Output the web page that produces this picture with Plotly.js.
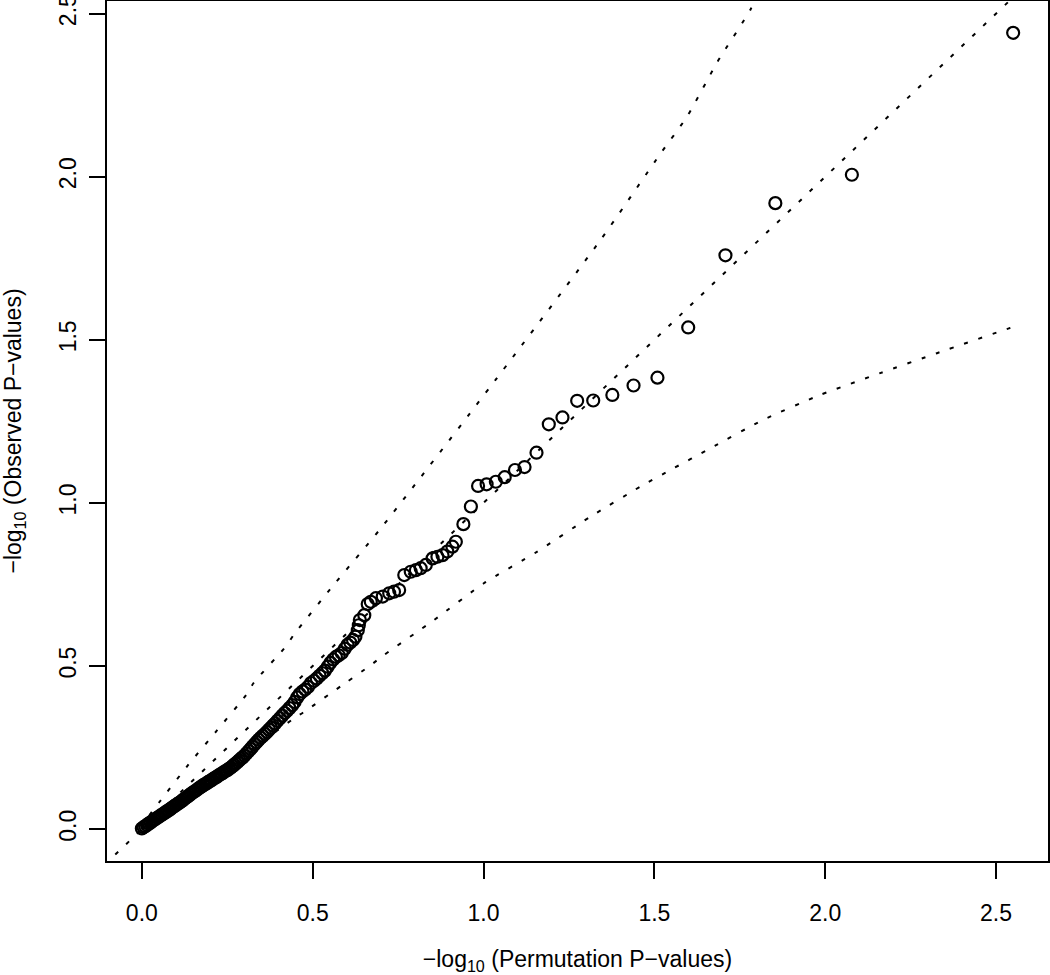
<!DOCTYPE html>
<html>
<head>
<meta charset="utf-8">
<script src="https://cdn.plot.ly/plotly-3.0.1.min.js"></script>
<style>html,body{margin:0;padding:0;background:#fff;}#chart{width:1050px;height:975px;}</style>
</head>
<body>
<div id="chart"></div>
<script>
// Observed points: x = -log10(permutation p), y = -log10(observed p)
const permX = [
0.000,0.005,0.010,0.015,0.020,0.025,0.030,0.035,0.040,0.045,0.050,0.055,0.060,0.065,0.070,0.075,0.080,0.085,0.090,0.095,
0.100,0.105,0.110,0.115,0.120,0.125,0.130,0.135,0.140,0.145,0.150,0.155,0.160,0.165,0.170,0.175,0.180,0.185,0.190,0.195,
0.200,0.205,0.210,0.215,0.220,0.225,0.230,0.235,0.240,0.245,0.250,0.255,0.260,0.265,0.270,0.275,0.280,0.285,0.290,0.295,
0.300,0.306,0.312,0.318,0.324,0.330,0.336,0.342,0.348,0.354,0.360,0.366,0.372,0.378,0.384,0.390,0.397,0.404,0.411,0.418,
0.425,0.432,0.440,0.447,0.455,0.462,0.470,0.478,0.486,0.495,0.504,0.512,0.520,0.528,0.536,0.544,0.552,0.560,0.568,0.576,
0.585,0.594,0.602,0.610,0.618,0.625,0.632,0.635,0.638,0.651,0.661,0.670,0.685,0.705,0.724,0.738,0.753,0.768,0.787,0.802,
0.816,0.831,0.851,0.865,0.880,0.894,0.909,0.919,0.941,0.963,0.984,1.009,1.036,1.062,1.092,1.120,1.155,1.191,1.231,1.274,
1.321,1.377,1.439,1.509,1.599,1.708,1.854,2.078,2.550];
const obsY = [
0.002,0.006,0.009,0.013,0.017,0.020,0.024,0.028,0.031,0.035,0.038,0.042,0.045,0.049,0.052,0.056,0.059,0.063,0.067,0.070,
0.074,0.078,0.081,0.085,0.089,0.093,0.097,0.101,0.105,0.109,0.113,0.116,0.120,0.124,0.128,0.131,0.135,0.138,0.141,0.145,
0.148,0.151,0.155,0.158,0.161,0.165,0.168,0.171,0.175,0.178,0.181,0.185,0.188,0.193,0.197,0.202,0.206,0.211,0.216,0.220,
0.225,0.232,0.239,0.246,0.253,0.260,0.267,0.274,0.280,0.286,0.292,0.298,0.305,0.311,0.318,0.324,0.332,0.340,0.348,0.356,
0.363,0.371,0.380,0.390,0.404,0.414,0.422,0.428,0.436,0.448,0.455,0.462,0.470,0.478,0.486,0.498,0.510,0.520,0.528,0.533,
0.540,0.553,0.565,0.572,0.580,0.590,0.610,0.625,0.641,0.656,0.690,0.697,0.708,0.713,0.723,0.728,0.733,0.779,0.789,0.794,
0.800,0.810,0.830,0.835,0.840,0.851,0.866,0.881,0.935,0.989,1.052,1.057,1.065,1.079,1.101,1.110,1.154,1.241,1.262,1.313,
1.314,1.331,1.360,1.384,1.538,1.759,1.919,2.006,2.441];

// Upper confidence envelope
const upperX = [0.000,0.020,0.052,0.135,0.217,0.305,0.327,0.422,0.444,0.561,0.703,1.035,1.343,1.518,1.596,1.684,1.781,1.800];
const upperY = [0.004,0.040,0.084,0.196,0.299,0.411,0.448,0.561,0.595,0.748,0.927,1.377,1.807,2.071,2.185,2.351,2.512,2.560];

// Lower confidence envelope
const lowerX = [0.000,0.446,0.474,0.597,0.670,0.709,0.855,1.000,1.156,1.313,1.459,1.547,1.663,1.819,1.985,2.161,2.327,2.541,2.550];
const lowerY = [0.000,0.340,0.359,0.449,0.503,0.534,0.641,0.753,0.850,0.958,1.050,1.101,1.167,1.255,1.331,1.398,1.459,1.536,1.538];

// Reference line y = x
const refX = [-0.3, 3.0];
const refY = [-0.3, 3.0];

const font = {family: 'Liberation Sans, Arial, Helvetica, sans-serif', size: 23, color: '#000'};
const dash = '4px,11px';

const traces = [
  {x: refX, y: refY, mode: 'lines', line: {color: '#000', width: 2, dash: dash}, hoverinfo: 'skip'},
  {x: upperX, y: upperY, mode: 'lines', line: {color: '#000', width: 2, dash: dash, shape: 'spline', smoothing: 0.6}, hoverinfo: 'skip'},
  {x: lowerX, y: lowerY, mode: 'lines', line: {color: '#000', width: 2, dash: dash, shape: 'spline', smoothing: 0.6}, hoverinfo: 'skip'},
  {x: permX, y: obsY, mode: 'markers', marker: {symbol: 'circle-open', size: 12, color: '#000', line: {width: 2.2}}, cliponaxis: false}
];

const layout = {
  width: 1050, height: 975,
  margin: {l: 107, r: 2, t: 1, b: 114, pad: 0},
  paper_bgcolor: '#fff', plot_bgcolor: '#fff',
  showlegend: false,
  font: font,
  xaxis: {
    range: [-0.102, 2.652], autorange: false,
    tickvals: [0, 0.5, 1.0, 1.5, 2.0, 2.5],
    ticktext: ['0.0', '0.5', '1.0', '1.5', '2.0', '2.5'],
    ticks: 'outside', ticklen: 16, tickwidth: 2, tickcolor: '#000',
    ticklabelstandoff: 14,
    showline: true, linecolor: '#000', linewidth: 2, mirror: true,
    showgrid: false, zeroline: false,
    tickfont: font,
    title: {text: '\u2212log<sub>10</sub> (Permutation P\u2212values)', font: font, standoff: 40}
  },
  yaxis: {
    range: [-0.0976, 2.5386], autorange: false,
    tickvals: [0, 0.5, 1.0, 1.5, 2.0, 2.5],
    ticktext: ['0.0', '0.5', '1.0', '1.5', '2.0', '2.5'],
    tickangle: -90,
    ticklabeloverflow: 'allow',
    ticks: 'outside', ticklen: 16, tickwidth: 2, tickcolor: '#000',
    ticklabelstandoff: 4,
    showline: true, linecolor: '#000', linewidth: 2, mirror: true,
    showgrid: false, zeroline: false,
    tickfont: font,
    title: {text: '\u2212log<sub>10</sub> (Observed P\u2212values)', font: font, standoff: 28}
  }
};

Plotly.newPlot('chart', traces, layout, {displayModeBar: false, staticPlot: true});
</script>
</body>
</html>
